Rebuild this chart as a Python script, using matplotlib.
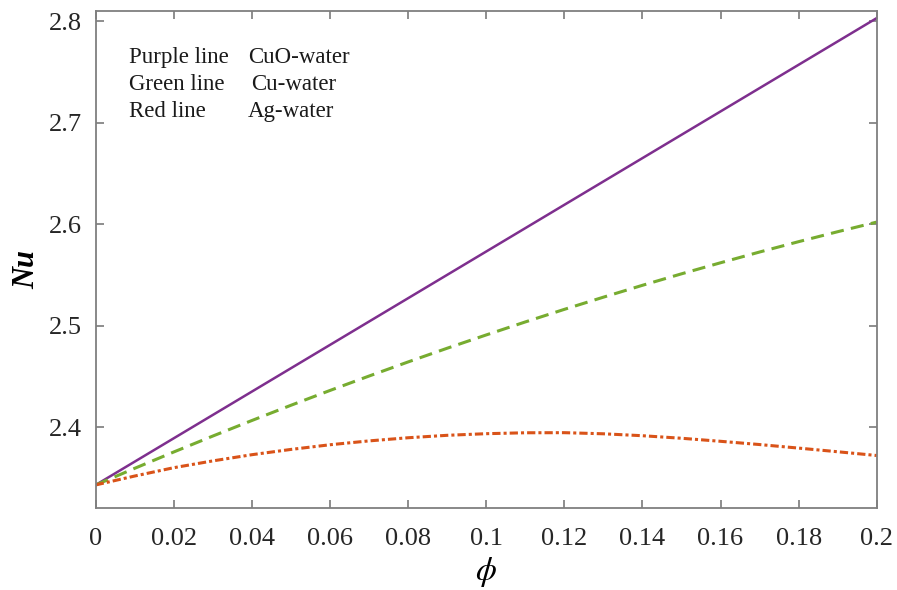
import matplotlib
matplotlib.use("Agg")
import matplotlib.pyplot as plt
import numpy as np
from matplotlib.ticker import FuncFormatter

# volume fraction of nanoparticles
phi = [0.00, 0.01, 0.02, 0.03, 0.04, 0.05, 0.06, 0.07, 0.08, 0.09, 0.10,
       0.11, 0.12, 0.13, 0.14, 0.15, 0.16, 0.17, 0.18, 0.19, 0.20]

# Nusselt number for each nanofluid
nu_cuo = [2.343, 2.366, 2.389, 2.412, 2.435, 2.458, 2.481, 2.504, 2.527, 2.550, 2.573,
          2.596, 2.619, 2.642, 2.665, 2.688, 2.711, 2.734, 2.757, 2.780, 2.803]
nu_cu = [2.3430, 2.3594, 2.3755, 2.3912, 2.4065, 2.4215, 2.4361, 2.4503, 2.4642, 2.4777, 2.4908,
         2.5036, 2.5160, 2.5280, 2.5397, 2.5510, 2.5619, 2.5725, 2.5827, 2.5925, 2.6020]
nu_ag = [2.3430, 2.3518, 2.3600, 2.3667, 2.3728, 2.3780, 2.3826, 2.3864, 2.3895, 2.3919, 2.3935,
         2.3944, 2.3945, 2.3934, 2.3915, 2.3890, 2.3860, 2.3828, 2.3793, 2.3757, 2.3720]

note_left = ["Purple line", "Green line", "Red line"]
note_right = ["CuO-water", "Cu-water", "Ag-water"]

plt.rcParams['font.family'] = ['Liberation Serif', 'DejaVu Serif']
plt.rcParams['mathtext.fontset'] = 'stix'

fig = plt.figure(figsize=(8.97, 5.90), dpi=100)
ax = fig.add_axes([0.1067, 0.1385, 0.8707, 0.8429])

ax.plot(phi, nu_cuo, color='#7E2F8E', lw=1.8, ls='-')
ax.plot(phi, nu_cu, color='#77AC30', lw=2.2, ls=(0, (4.3, 2.4)))
ax.plot(phi, nu_ag, color='#D95319', lw=2.2, ls=(0, (2.7, 1.0, 1.0, 1.0)))

ax.set_xlim(0, 0.2)
ax.set_ylim(2.32, 2.81)
ax.set_xticks(np.arange(0, 0.2001, 0.02))
ax.set_yticks([2.4, 2.5, 2.6, 2.7, 2.8])
ax.xaxis.set_major_formatter(FuncFormatter(lambda v, p: f'{v:g}'))
ax.yaxis.set_major_formatter(FuncFormatter(lambda v, p: f'{v:g}'))

for s in ax.spines.values():
    s.set_color('#7f7f7f')
    s.set_linewidth(1.3)
ax.tick_params(direction='in', length=6, width=1.1, color='#6f6f6f',
               top=True, right=True, labelsize=19, labelcolor='#262626')
ax.tick_params(axis='y', pad=10)
ax.tick_params(axis='x', pad=14)

ax.set_xlabel(r'$\phi$', fontsize=24, labelpad=4)
ax.set_ylabel('Nu', fontsize=22, fontweight='bold', style='italic')
ax.yaxis.set_label_coords(-0.07, 0.48)

# line key written inside the axes
for i, (a, b) in enumerate(zip(note_left, note_right)):
    y = 0.907 - i * 0.0545
    ax.text(0.043, y, a, transform=ax.transAxes, fontsize=16.5, va='center', color='#1a1a1a')
    ax.text(0.195 + (0.004 if i == 1 else 0), y, b, transform=ax.transAxes,
            fontsize=16.5, va='center', color='#1a1a1a')

fig.savefig('out.png', dpi=100)
